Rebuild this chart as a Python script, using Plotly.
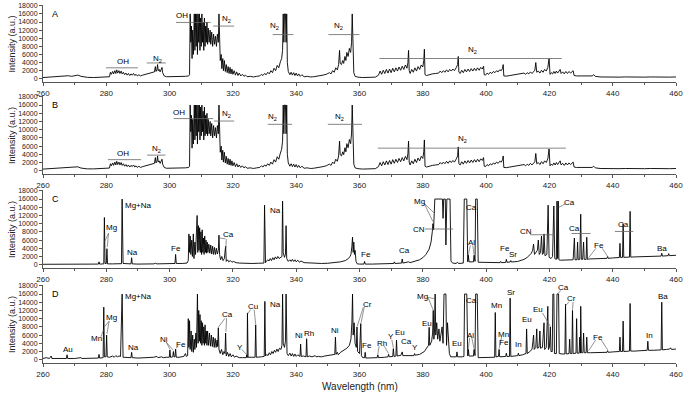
import plotly.graph_objects as go

# ---------------- spectra (wavelength nm, intensity a.u.) ----------------
spec_A = [
(260,300),(262,450),(264,500),(266,600),(268,750),(269,600),(270,700),(271,900),(272,600),(274,350),(276,300),(278,350),(280,400),(281,500),
(281.3,1600),(281.6,1100),(282,1800),(282.3,1200),(282.7,2000),(283,1300),(283.3,2200),(283.6,1400),(284,2000),(284.3,1300),(284.7,1900),(285,1200),
(285.4,1600),(285.8,1000),(286.2,1400),(286.6,900),(287,1300),(287.4,800),(287.8,1200),(288.2,900),(288.6,1300),(289,800),(289.4,1100),(289.8,700),
(290.3,1000),(290.8,700),(291.5,900),(292.5,1100),(293.5,1300),(294.5,1500),(295.2,1700),(295.5,3000),(295.7,1800),(296,2200),(296.2,3500),(296.4,2000),
(296.7,2300),(297,1700),(297.6,2800),(297.8,1500),(298.3,700),(299,500),(301,500),(303,550),(305,600),(306,700),(306.3,1000),
(306.5,16000),(306.7,9000),(306.9,13000),(307.1,5000),(307.3,12000),(307.5,6000),(307.8,16000),(308,7000),(308.2,16000),(308.4,8000),(308.6,16000),
(308.8,6000),(309,16000),(309.2,9000),(309.4,16000),(309.6,7000),(309.8,15000),(310,8000),(310.2,16000),(310.4,9000),(310.6,14000),(310.8,7000),
(311,15000),(311.2,8000),(311.4,13000),(311.6,9000),(311.8,14000),(312,8500),(312.2,12500),(312.5,9000),(312.8,12000),(313,8500),(313.3,11500),
(313.6,8000),(313.9,11000),(314.2,8500),(314.5,10500),(314.8,8000),(315.1,11000),(315.4,9000),(315.6,16000),(315.8,10000),(316,4500),(316.3,6000),
(316.5,2500),(316.8,5000),(317,2000),(317.3,4500),(317.6,1800),(317.9,3500),(318.2,1500),(318.5,3000),(318.8,1300),(319.1,2800),(319.4,1200),
(319.7,2400),(320,1100),(320.4,2000),(320.8,900),(321.2,1700),(321.6,800),(322,1400),(322.5,700),(323,1100),(323.5,600),(324,900),(324.5,500),
(325.5,600),(326.5,450),(327.5,600),(328.5,700),(329,1100),(329.5,800),(330,1300),(330.5,1000),(331,1600),(331.5,1200),(332,2000),(332.5,1500),
(333,2600),(333.5,2000),(334,3300),(334.5,2700),(335,4200),(335.4,5000),(335.7,7000),(335.9,16000),(336.1,9000),(336.3,16000),(336.6,16000),
(336.8,9000),(337.0,16000),(337.2,4000),(337.5,1800),(338,1000),(338.4,1600),(338.8,900),(339.2,1500),(339.6,800),(340,1400),(340.4,700),
(340.8,1200),(341.3,600),(341.8,1000),(342.5,500),(343.5,600),(344.5,450),(345.5,500),(346.5,600),(347.5,700),(348.5,900),(349.5,1100),
(350.5,1500),(351,1200),(351.5,2000),(352,1600),(352.5,2700),(353,2200),(353.4,3500),(353.7,7000),(353.9,3800),(354.3,3500),(354.7,4500),
(355,3800),(355.4,5500),(355.7,4500),(356,6500),(356.4,5500),(356.8,7500),(357.2,6500),(357.5,9000),(357.7,16000),(357.9,6000),(358.2,1500),
(358.6,600),(359.5,400),(361,300),(363,300),(365,400),(366,900),(366.5,1900),(367,1100),(367.5,2100),(368,1300),(368.5,2300),(369,1400),
(369.5,2400),(370,1500),(370.5,2600),(371,1700),(371.5,2700),(372,1900),(372.5,2900),(373,2100),(373.5,3100),(374,2300),(374.5,3400),
(375,2600),(375.3,4000),(375.5,7000),(375.7,2000),(376,1300),(376.5,2300),(377,1600),(377.5,2700),(378,1900),(378.5,3000),(379,2300),
(379.5,3400),(380,2900),(380.3,4500),(380.5,7300),(380.7,1000),(381.2,800),(382,1000),(383,1200),(384,1300),(385,1400),(385.5,1900),
(386,1500),(386.5,2000),(387,1600),(387.5,2200),(388,1700),(388.5,2300),(389,1900),(389.5,2400),(390,2000),(390.6,2800),(391,3500),
(391.2,5500),(391.4,1600),(391.8,1300),(392.3,2100),(392.8,1500),(393.3,2300),(393.8,1700),(394.3,2400),(394.8,1800),(395.3,2500),
(395.8,1900),(396.3,2600),(396.8,2000),(397.3,2700),(397.8,2100),(398.3,2800),(398.8,2400),(399.2,3100),(399.4,1000),(399.8,900),
(400.3,1400),(400.8,1100),(401.3,1600),(401.8,1300),(402.3,1800),(402.8,1500),(403.3,2000),(403.8,1700),(404.3,2200),(404.8,2000),
(405.2,2600),(405.4,3500),(405.6,700),(406.5,650),(407.5,800),(408.5,900),(409.5,1000),(410.5,1100),(411.5,1200),(412,1400),(412.5,1100),
(413,1500),(413.5,1200),(414,1700),(414.5,1300),(415,1900),(415.4,2100),(415.7,4000),(416,1600),(416.5,1900),(417,1400),(417.5,2100),
(418,1600),(418.5,2300),(419,1900),(419.5,2800),(419.9,5000),(420.2,1100),(420.6,1500),(421,1200),(421.4,1800),(421.8,1300),(422.2,1900),
(422.6,1400),(423,2000),(423.4,2300),(423.7,1300),(424.2,1700),(424.7,1200),(425.2,1800),(425.7,1300),(426.2,1800),(426.7,1400),
(427.2,1900),(427.5,2000),(427.8,800),(428.5,700),(430,700),(432,650),(433.5,700),(434,1000),(434.5,600),(436,450),(438,400),(440,450),
(442,400),(444,450),(446,400),(448,450),(450,400),(452,450),(454,400),(456,450),(458,400),(460,450),
]

spec_B = [
(260,400),(262,500),(264,550),(266,650),(268,800),(269,700),(270,750),(271,950),(272,650),(274,450),(276,450),(278,500),(280,550),(281,650),
(281.3,1700),(281.6,1200),(282,1900),(282.3,1300),(282.7,2100),(283,1400),(283.3,2300),(283.6,1500),(284,2100),(284.3,1400),(284.7,2000),(285,1300),
(285.4,1700),(285.8,1100),(286.2,1500),(286.6,1000),(287,1400),(287.4,900),(287.8,1300),(288.2,1000),(288.6,1400),(289,900),(289.4,1200),(289.8,800),
(290.3,1100),(290.8,800),(291.5,1000),(292.5,1200),(293.5,1400),(294.5,1600),(295.2,1800),(295.5,3200),(295.7,1900),(296,2300),(296.2,3600),
(296.4,2100),(296.7,2400),(297,1800),(297.6,2800),(297.8,1600),(298.3,800),(299,600),(301,600),(303,650),(305,700),(306,800),(306.3,1100),
(306.5,16000),(306.7,9500),(306.9,13500),(307.1,5500),(307.3,12500),(307.5,6500),(307.8,16000),(308,7500),(308.2,16000),(308.4,8500),(308.6,16000),
(308.8,6500),(309,16000),(309.2,9500),(309.4,16000),(309.6,7500),(309.8,15500),(310,8500),(310.2,16000),(310.4,9500),(310.6,14500),(310.8,7500),
(311,15500),(311.2,8500),(311.4,13500),(311.6,9000),(311.8,14000),(312,8500),(312.2,12500),(312.5,9000),(312.8,12000),(313,8500),(313.3,11500),
(313.6,8000),(313.9,11000),(314.2,8500),(314.5,10500),(314.8,8000),(315.1,11000),(315.4,9000),(315.6,16000),(315.8,10000),(316,4500),(316.3,6000),
(316.5,2600),(316.8,5000),(317,2100),(317.3,4500),(317.6,1900),(317.9,3500),(318.2,1600),(318.5,3000),(318.8,1400),(319.1,2800),(319.4,1300),
(319.7,2400),(320,1200),(320.4,2000),(320.8,1000),(321.2,1700),(321.6,900),(322,1400),(322.5,800),(323,1200),(323.5,700),(324,1000),(324.5,600),
(325.5,700),(326.5,550),(327.5,700),(328.5,800),(329,1200),(329.5,900),(330,1400),(330.5,1100),(331,1700),(331.5,1300),(332,2100),(332.5,1600),
(333,2700),(333.5,2100),(334,3400),(334.5,2800),(335,4300),(335.4,5200),(335.7,7200),(335.9,16000),(336.1,9000),(336.3,16000),(336.6,16000),
(336.8,9000),(337.0,16000),(337.2,4000),(337.5,1900),(338,1100),(338.4,1700),(338.8,1000),(339.2,1600),(339.6,900),(340,1500),(340.4,800),
(340.8,1300),(341.3,700),(341.8,1100),(342.5,600),(343.5,700),(344.5,550),(345.5,600),(346.5,700),(347.5,800),(348.5,1000),(349.5,1200),
(350.5,1600),(351,1300),(351.5,2100),(352,1700),(352.5,2800),(353,2300),(353.4,3600),(353.7,7200),(353.9,3900),(354.3,3600),(354.7,4600),
(355,3900),(355.4,5600),(355.7,4600),(356,6600),(356.4,5600),(356.8,7600),(357.2,6600),(357.5,9200),(357.7,16000),(357.9,6000),(358.2,1600),
(358.6,700),(359.5,500),(361,400),(363,400),(365,500),(366,1000),(366.5,2000),(367,1200),(367.5,2200),(368,1400),(368.5,2400),(369,1500),
(369.5,2500),(370,1600),(370.5,2700),(371,1800),(371.5,2800),(372,2000),(372.5,3000),(373,2200),(373.5,3200),(374,2400),(374.5,3500),
(375,2700),(375.3,4200),(375.5,7200),(375.7,2100),(376,1400),(376.5,2400),(377,1700),(377.5,2800),(378,2000),(378.5,3100),(379,2400),
(379.5,3500),(380,3000),(380.3,4600),(380.5,7500),(380.7,1100),(381.2,900),(382,1100),(383,1300),(384,1400),(385,1500),(385.5,2000),
(386,1600),(386.5,2100),(387,1700),(387.5,2300),(388,1800),(388.5,2400),(389,2000),(389.5,2500),(390,2100),(390.6,2900),(391,3600),
(391.2,5800),(391.4,1700),(391.8,1400),(392.3,2200),(392.8,1600),(393.3,2400),(393.8,1800),(394.3,2500),(394.8,1900),(395.3,2600),
(395.8,2000),(396.3,2700),(396.8,2100),(397.3,2800),(397.8,2200),(398.3,2900),(398.8,2500),(399.2,3200),(399.4,1100),(399.8,1000),
(400.3,1500),(400.8,1200),(401.3,1700),(401.8,1400),(402.3,1900),(402.8,1600),(403.3,2100),(403.8,1800),(404.3,2300),(404.8,2100),
(405.2,2700),(405.4,3600),(405.6,800),(406.5,750),(407.5,900),(408.5,1000),(409.5,1100),(410.5,1200),(411.5,1300),(412,1500),(412.5,1200),
(413,1600),(413.5,1300),(414,1800),(414.5,1400),(415,2000),(415.4,2200),(415.7,4200),(416,1700),(416.5,2000),(417,1500),(417.5,2200),
(418,1700),(418.5,2400),(419,2000),(419.5,2900),(419.9,5300),(420.2,1200),(420.6,1600),(421,1300),(421.4,1900),(421.8,1400),(422.2,2000),
(422.6,1500),(423,2100),(423.4,2400),(423.7,1400),(424.2,1800),(424.7,1300),(425.2,1900),(425.7,1400),(426.2,1900),(426.7,1500),
(427.2,2000),(427.5,2100),(427.8,900),(428.5,800),(430,800),(432,750),(433.5,800),(434,1100),(434.5,700),(436,550),(438,500),(440,550),
(442,500),(444,550),(446,500),(448,550),(450,500),(452,550),(454,500),(456,550),(458,500),(460,550),
]

spec_C = [
(260,100),(265,100),(270,100),(275,150),(277.5,150),(277.7,700),(277.9,150),(279.2,200),(279.4,11500),(279.6,300),(280.0,300),(280.2,3900),
(280.4,200),(282,200),(284.8,250),(285.0,16000),(285.3,300),(287.8,200),(288.0,1700),(288.2,200),(290,150),(295,200),(295.5,350),(296,200),
(298,250),(300,250),(301.7,300),(301.9,2500),(302.1,300),(304,300),(305.5,400),(305.9,1000),
(306.1,7500),(306.3,3000),(306.5,7000),(306.7,2500),(307,6000),(307.2,2000),(307.5,7500),(307.7,1500),(308,5500),(308.2,2500),(308.5,7000),
(308.7,12000),(308.9,3000),(309.1,9500),(309.3,3500),(309.5,9000),(309.7,3000),(309.9,8000),(310.1,2500),(310.3,8500),(310.5,3000),
(310.7,6500),(310.9,2500),(311.1,7000),(311.3,3000),(311.5,6000),(311.7,2800),(311.9,5500),(312.1,3000),(312.4,5000),(312.7,2800),
(313,4800),(313.3,2600),(313.6,4500),(313.9,2500),(314.2,4200),(314.5,2500),(314.8,4000),(315.1,2600),(315.4,3500),(315.6,7200),
(315.8,2500),(316.1,1200),(316.5,2000),(316.9,1000),(317.3,1500),(317.7,4500),(317.9,800),(318.3,1200),(318.7,700),(319.2,1000),
(319.7,600),(320.2,800),(321,500),(322,400),(324,300),(326,300),(328,350),(329.8,400),(330.0,14500),(330.3,500),(330.6,800),(331,1200),
(331.4,900),(331.8,1500),(332.2,1000),(332.6,1700),(333,1200),(333.4,1900),(333.8,1400),(334.2,2000),(334.6,1500),(335,1800),(335.5,2000),
(335.7,15500),(335.9,3000),(336.3,1800),(336.6,2500),(336.8,9500),(337,1500),(337.5,800),(338,1200),(338.4,800),(338.8,1300),(339.2,800),
(339.6,1200),(340,700),(340.5,1100),(341,600),(341.5,900),(342.5,500),(344,400),(346,300),(348,300),(350,350),(352,450),(354,700),
(355.5,1000),(356.5,1500),(357,2000),(357.3,2500),(357.6,4500),(357.8,6700),(358,3000),(358.2,5500),(358.4,2500),(358.6,3500),(358.9,800),
(359.3,200),(360,150),(361.4,150),(361.6,800),(361.8,150),(364,150),(367,200),(369,250),(370.8,300),(371,700),(371.2,300),(373.3,400),
(373.5,1400),(373.7,400),(375,500),(375.5,700),(376,500),(377,700),(378,900),(379,1200),(380,1700),(381,2500),(382,3800),(382.6,5500),
(383.0,8000),(383.2,10000),(383.4,8500),(383.6,12000),(383.8,16000),(386.2,16000),(386.4,11300),(386.6,16000),(387.1,16000),(387.3,4800),
(387.6,16000),(388.6,16000),(388.9,800),(389.5,400),(390.5,300),(391,600),(391.3,300),(392.8,400),(393.1,16000),(393.9,16000),(394.2,700),
(394.4,2300),(394.6,700),(396.0,700),(396.2,2300),(396.5,800),(396.7,16000),(397.2,16000),(397.5,600),(399,600),(401,550),(403,500),
(404.4,500),(404.6,800),(404.8,500),(406.2,550),(406.4,1300),(406.6,600),(407.6,650),(407.8,1000),(408,650),(410,800),(411,1000),
(412,1300),(413,1800),(413.8,2300),(414.3,2800),(414.7,3500),(415.0,5000),(415.3,2500),(415.8,3000),(416.2,3500),(416.5,6000),(416.8,2500),
(417.2,3000),(417.5,7000),(417.8,2500),(418.1,2800),(418.3,7500),(418.6,2200),(419.2,2500),(419.6,14500),(419.9,1800),(420.5,1500),
(421,2000),(421.4,14300),(421.7,1500),(422.2,1300),(422.4,15500),(422.6,1500),(422.8,15500),(423.0,1200),(423.5,1100),(425,1150),
(427.5,1200),(427.9,6500),(428.1,1200),(428.7,1200),(428.9,5500),(429.1,1200),(429.6,1300),(429.9,12300),(430.1,1300),(430.5,1300),
(430.8,5500),(431,1300),(431.6,1300),(431.8,6700),(432,1300),(432.6,1400),(433,1400),(435,1450),(437,1500),(438.2,1550),(438.4,2000),
(438.6,1550),(440,1650),(442.1,1750),(442.3,5200),(442.5,1750),(443.1,1800),(443.3,10000),(443.5,1800),(445.3,1850),(445.5,13000),
(445.7,1850),(447,1900),(449,1950),(451,2000),(453,2050),(455.3,2100),(455.5,2800),(455.7,2100),(457.5,2200),(457.7,2700),(457.9,2200),
(460,2300),
]

spec_D = [
(260,300),(261,500),(262,300),(262.6,900),(262.8,300),(265,300),(267.4,300),(267.6,1200),(267.8,300),(270,300),(272,500),(272.3,300),
(275,300),(277.5,400),(277.7,1300),(277.9,400),(279,500),(279.2,12800),(279.4,700),(279.9,700),(280.1,6000),(280.3,700),(281,600),
(282,900),(282.5,600),(283,1000),(283.5,700),(284,900),(284.5,800),(285.0,16000),(285.3,600),(287,500),(287.8,500),(288.0,1800),
(288.2,500),(290,400),(293,500),(295,600),(296,800),(296.3,500),(297.5,700),(298,500),(299,600),(299.9,600),(300.1,2400),(300.3,600),
(301,700),(301.2,2000),(301.4,700),(301.7,700),(301.9,2600),(302.1,600),(303,600),(304.5,800),(305,1500),(305.3,800),(305.7,1000),
(305.9,10000),(306.1,3000),(306.3,9500),(306.5,2500),(306.8,7000),(307,2000),(307.3,6000),(307.5,1800),(307.8,5000),(308,2500),
(308.3,6500),(308.5,3000),(308.8,16000),(309,4000),(309.2,12000),(309.4,4500),(309.6,11000),(309.8,4000),(310,9500),(310.2,3500),
(310.4,9000),(310.6,4000),(310.8,8000),(311,3500),(311.2,8500),(311.4,4000),(311.6,7000),(311.8,3500),(312,7000),(312.3,3500),
(312.6,6500),(312.9,3300),(313.2,6000),(313.5,3200),(313.8,5500),(314.1,3000),(314.4,5200),(314.7,3000),(315,4800),(315.2,3200),
(315.4,7800),(315.6,2500),(316,1500),(316.4,2500),(316.8,1200),(317.2,2000),(317.5,1500),(317.7,6500),(317.9,900),(318.3,1800),
(318.7,800),(319.1,1500),(319.5,700),(320,1200),(320.5,600),(321,900),(322,500),(323,500),(324.2,500),(324.4,1200),(324.5,500),
(324.6,11400),(324.8,600),(326,600),(327.0,600),(327.2,8500),(327.4,600),(329,700),(329.9,800),(330.1,14200),(330.3,900),(330.7,1300),
(331.1,1000),(331.5,1700),(331.9,1200),(332.3,2000),(332.7,1500),(333.1,2300),(333.5,1800),(333.9,2600),(334.3,2000),(334.7,2800),
(335.2,2500),(335.5,3500),(335.7,16000),(335.9,4000),(336.3,3000),(336.6,4500),(336.8,16000),(337.1,1500),(337.5,1000),(338,1600),
(338.4,900),(338.8,1500),(339.2,800),(339.6,1400),(340,800),(340.5,1200),(341,800),(341.2,800),(341.4,3800),(341.6,800),(342.3,900),
(342.8,700),(343.1,700),(343.3,5100),(343.5,700),(344.2,900),(345,700),(346,1000),(346.3,700),(347,800),(348,700),(349,900),(350,1000),
(351,1100),(352,1300),(352.2,1300),(352.4,5500),(352.6,1300),(353,1800),(353.3,1200),(354,1800),(355,2200),(356,2800),(356.8,3500),
(357.3,5000),(357.6,9000),(357.8,16000),(358,6000),(358.3,9000),(358.6,4000),(359,3000),(359.2,8000),(359.4,2000),(360,1500),
(360.4,8800),(360.6,1000),(361,500),(361.6,500),(361.8,1800),(362,400),(363,400),(365,500),(365.6,500),(365.8,1200),(366,500),(368,600),
(369,700),(369.2,1300),(369.4,700),(370.5,800),(370.7,2700),(370.9,800),(371.5,900),(371.7,4800),(371.9,900),(372.5,1000),(373,1000),
(373.5,1900),(373.7,1000),(375,1000),(377.2,1000),(377.4,1500),(377.6,1100),(379,1300),(380,1700),(380.5,2000),(381,2600),(381.5,3000),
(381.8,3500),(382,7900),(382.2,3500),(382.8,4500),(383.1,6500),(383.3,12000),(383.5,5000),(383.7,7000),(383.9,16000),(384.1,6000),
(384.4,9000),(384.7,5000),(385.1,7500),(385.4,4500),(385.7,6500),(386.1,8000),(386.4,4000),(386.7,16000),(387.3,16000),(387.5,3500),
(387.8,9000),(388.2,4000),(388.4,1500),(388.8,700),(390,700),(390.6,700),(390.8,1900),(391,700),(392.5,700),(393,800),(393.2,16000),
(393.9,16000),(394.2,900),(394.4,2500),(394.6,900),(396,900),(396.2,2500),(396.5,1000),(396.7,16000),(397.2,16000),(397.5,500),(399,500),
(400,600),(401,500),(402.5,600),(402.7,600),(402.9,11500),(403.1,700),(403.9,800),(404.1,2500),(404.3,700),(405,700),(406.2,800),
(406.4,1600),(406.6,800),(407.4,800),(407.6,15000),(407.8,800),(409,900),(410,1000),(410.2,1600),(410.4,1000),(411.5,1200),(412.6,1500),
(412.8,7500),(413,1500),(413.8,2000),(414.5,2500),(414.8,4500),(415,6000),(415.2,2500),(415.7,3000),(416,7500),(416.2,2800),(416.7,3000),
(417,7000),(417.2,2800),(417.8,3000),(418.3,9000),(418.5,2500),(419,3000),(419.5,13000),(419.7,2500),(420,3000),(420.3,8000),(420.5,2000),
(420.9,2000),(421.1,16000),(421.4,16000),(421.6,1500),(422.2,1500),(422.4,16000),(422.9,16000),(423.1,1500),(424,1400),(424.9,1400),
(425.1,13500),(425.3,1400),(426.2,1500),(426.4,5000),(426.6,1500),(427.1,1500),(427.3,12000),(427.5,1500),(428.4,1600),(428.6,10000),
(428.8,1600),(429.4,1600),(429.6,5500),(429.8,1600),(429.9,13000),(430.1,1700),(430.6,1700),(430.8,6500),(431,1700),(431.6,1700),
(431.8,5500),(432,1700),(433,1700),(435,1700),(437,1800),(438.2,1800),(438.4,2200),(438.6,1800),(440,1900),(442.1,2000),(442.3,5500),
(442.5,2000),(443.1,2000),(443.3,9400),(443.5,2000),(445.3,2100),(445.5,13700),(445.7,2100),(447,2100),(449,2200),(450.9,2300),
(451.1,4500),(451.3,2300),(453,2300),(455.3,2400),(455.5,14000),(455.7,2400),(457,2500),(458,2600),(458.3,2900),(458.6,2500),(460,2600),
]

# ---------------- axes ----------------
x_ticks = [260, 280, 300, 320, 340, 360, 380, 400, 420, 440, 460]
y_ticks = [0, 2000, 4000, 6000, 8000, 10000, 12000, 14000, 16000, 18000]
panel_letters = ["A", "B", "C", "D"]

# ---------------- labels: (text, x, y) ----------------
N2 = "N<sub>2</sub>"
labels_A = [("OH", 285.3, 4200), (N2, 296.3, 5000), ("OH", 303.8, 15500), (N2, 318.0, 14700),
            (N2, 333.3, 12900), (N2, 353.3, 12900), (N2, 395.8, 7200)]
bands_A = [(279.9, 290.0, 2700), (292.8, 298.8, 3900), (302.0, 313.0, 13900), (313.8, 320.4, 13000),
           (332.6, 339.1, 10900), (350.2, 360.0, 10900), (366.3, 423.9, 5000)]
leaders_A = []

labels_B = [("OH", 285.3, 4300), (N2, 295.9, 5300), ("OH", 303.0, 14200), (N2, 318.0, 13900),
            (N2, 332.5, 13000), (N2, 353.8, 13000), (N2, 392.5, 7700)]
bands_B = [(280.5, 291.0, 2700), (292.9, 298.7, 3800), (301.3, 313.8, 12700), (314.0, 320.4, 12100),
           (331.0, 338.7, 11300), (350.0, 360.8, 11300), (365.8, 425.2, 5500)]
leaders_B = []

labels_C = [("Mg", 281.6, 9000), ("Na", 288.3, 2900), ("Fe", 302.0, 4000), ("Ca", 318.5, 7300),
            ("Fe", 362.0, 2500), ("Ca", 374.2, 3500), ("Mg", 378.9, 15300), ("CN", 378.9, 8700),
            ("Ca", 395.4, 13900), ("Al", 395.4, 5500), ("Fe", 406.0, 4000), ("Sr", 408.4, 2400),
            ("CN", 412.6, 8100), ("Ca", 426.2, 15100), ("Ca", 427.9, 8900), ("Fe", 435.7, 4800),
            ("Ca", 443.3, 9700), ("Ba", 455.5, 4000)]
labels_C_left = [("Mg+Na", 285.4, 14400), ("Na", 331.0, 13300)]
bands_C = [(380.7, 389.6, 8700), (413.9, 421.8, 7300), (427.0, 433.0, 7600), (440.7, 446.5, 8100)]
leaders_C = [(280.7, 7700, 279.6, 5800), (280.7, 7700, 280.3, 4300), (317.6, 6300, 315.8, 6500),
             (317.9, 6300, 317.8, 4000), (380.4, 15000, 383.2, 10500), (380.4, 15000, 383.7, 12500),
             (395.0, 4700, 394.4, 2400), (395.8, 4700, 396.2, 2400), (425.0, 14800, 423.0, 14000),
             (434.7, 4000, 432.4, 1700), (436.7, 4000, 438.4, 2000)]

labels_D = [("Au", 268.0, 2500), ("Mn", 277.0, 5200), ("Mg", 281.5, 10200), ("Na", 288.5, 3000),
            ("Ni", 298.2, 4900), ("Fe", 303.6, 3800), ("Ca", 318.3, 10900), ("Y", 322.2, 3000),
            ("Cu", 326.2, 13000), ("Ni", 341.0, 5900), ("Rh", 344.2, 6500), ("Ni", 352.4, 7100),
            ("Cr", 362.5, 13400), ("Fe", 362.4, 3400), ("Rh", 367.0, 4000), ("Y", 369.9, 5600),
            ("Eu", 372.7, 6700), ("Ca", 375.0, 4500), ("Y", 377.5, 3000), ("Eu", 381.2, 8900),
            ("Mg", 380.0, 15300), ("Eu", 390.7, 3900), ("Ca", 395.4, 14500), ("Al", 395.1, 6000),
            ("Mn", 403.3, 13300), ("Mn", 405.4, 6200), ("Fe", 405.8, 4200), ("Sr", 407.9, 16300),
            ("In", 410.3, 3700), ("Eu", 412.8, 9800), ("Eu", 416.5, 12300), ("Ca", 424.5, 17500),
            ("Cr", 427.0, 14900), ("Fe", 435.5, 5500), ("In", 451.5, 5900), ("Ba", 455.8, 15300)]
labels_D_left = [("Mg+Na", 285.4, 15500), ("Na", 331.0, 13500)]
bands_D = []
leaders_D = [(278.3, 5600, 279.1, 7200), (280.9, 9400, 279.4, 8000), (280.9, 9400, 280.2, 6300),
             (298.9, 4300, 300.1, 2600), (298.9, 4300, 301.2, 2300), (302.8, 3300, 302.0, 2800),
             (317.5, 10100, 315.5, 8000), (318.0, 10100, 317.8, 6800), (322.8, 2500, 324.3, 1300),
             (325.6, 12200, 324.7, 11200), (326.7, 12200, 327.2, 8700), (361.2, 12800, 359.3, 8200),
             (361.5, 12800, 360.5, 9000), (366.2, 3300, 365.8, 1400), (367.8, 3300, 369.2, 1500),
             (370.2, 4900, 370.7, 2900), (381.6, 15200, 383.3, 12100), (381.6, 15200, 383.9, 14800),
             (394.8, 5300, 394.4, 2700), (395.5, 5300, 396.2, 2700), (404.9, 5500, 404.1, 2700),
             (417.8, 11400, 420.3, 8100), (423.6, 16900, 422.6, 16000), (426.3, 14100, 425.1, 13200),
             (427.5, 14100, 427.3, 12200), (434.6, 4800, 432.4, 2200), (436.4, 4800, 438.4, 2400)]

panels = [
    (spec_A, labels_A, [], bands_A, leaders_A),
    (spec_B, labels_B, [], bands_B, leaders_B),
    (spec_C, labels_C, labels_C_left, bands_C, leaders_C),
    (spec_D, labels_D, labels_D_left, bands_D, leaders_D),
]
domains = [[0.7849, 1.0], [0.5279, 0.7458], [0.2654, 0.4832], [0.0, 0.2179]]

FONT = "Arial, Liberation Sans, sans-serif"
fig = go.Figure()
shapes = []
annotations = []
layout = {}

for i, (spec, labels, labels_left, bands, leaders) in enumerate(panels):
    n = i + 1
    xa = "x" if n == 1 else f"x{n}"
    ya = "y" if n == 1 else f"y{n}"
    fig.add_trace(go.Scatter(
        x=[p[0] for p in spec], y=[p[1] for p in spec], mode="lines",
        line=dict(color="black", width=0.9), xaxis=xa, yaxis=ya,
        showlegend=False, hoverinfo="skip"))
    layout["xaxis" if n == 1 else f"xaxis{n}"] = dict(
        domain=[0, 1], range=[260, 460], anchor=ya, tickvals=x_ticks,
        ticktext=[str(v) for v in x_ticks], ticklabeloverflow="allow",
        ticks="outside", ticklen=3, tickwidth=1, tickcolor="#555",
        minor=dict(dtick=10, tick0=260, ticks="outside", ticklen=2, tickcolor="#555"),
        showline=True, linecolor="#555", linewidth=1, showgrid=False, zeroline=False,
        tickfont=dict(size=8, family=FONT, color="#222"))
    layout["yaxis" if n == 1 else f"yaxis{n}"] = dict(
        domain=domains[i], range=[-800, 18200], anchor=xa, tickvals=y_ticks,
        ticktext=[str(v) for v in y_ticks], ticklabeloverflow="allow",
        ticks="outside", ticklen=3, tickwidth=1, tickcolor="#555",
        showline=True, linecolor="#555", linewidth=1, showgrid=False, zeroline=False,
        tickfont=dict(size=7, family=FONT, color="#222"))
    annotations.append(dict(text=panel_letters[i], x=263.8, y=16000, xref=xa, yref=ya,
                            showarrow=False, font=dict(size=9, family=FONT, color="black")))
    annotations.append(dict(text="Intensity (a.u.)", x=-0.049, y=sum(domains[i]) / 2,
                            xref="paper", yref="paper", xanchor="center", yanchor="middle",
                            textangle=-90, showarrow=False,
                            font=dict(size=9, family=FONT, color="#222")))
    for (t, x, y) in labels:
        annotations.append(dict(text=t, x=x, y=y, xref=xa, yref=ya, showarrow=False,
                                font=dict(size=8, family=FONT, color="black")))
    for (t, x, y) in labels_left:
        annotations.append(dict(text=t, x=x, y=y, xref=xa, yref=ya, showarrow=False,
                                xanchor="left", font=dict(size=8, family=FONT, color="black")))
    for (x0, x1, y) in bands:
        shapes.append(dict(type="line", x0=x0, x1=x1, y0=y, y1=y, xref=xa, yref=ya,
                           line=dict(color="#666", width=0.8)))
    for (x0, y0, x1, y1) in leaders:
        shapes.append(dict(type="line", x0=x0, x1=x1, y0=y0, y1=y1, xref=xa, yref=ya,
                           line=dict(color="#666", width=0.7)))

annotations.append(dict(text="Wavelength (nm)", x=0.5, y=-0.067, xref="paper", yref="paper",
                        xanchor="center", yanchor="middle",
                        showarrow=False, font=dict(size=10, family=FONT, color="#222")))

fig.update_layout(
    width=685, height=395, margin=dict(l=43, r=9, t=5, b=32, autoexpand=False),
    paper_bgcolor="white", plot_bgcolor="white",
    shapes=shapes, annotations=annotations, **layout)

fig.write_html("out.html", config={"displayModeBar": False},
               post_script="document.body.style.margin='0px';document.body.style.overflow='hidden';")
